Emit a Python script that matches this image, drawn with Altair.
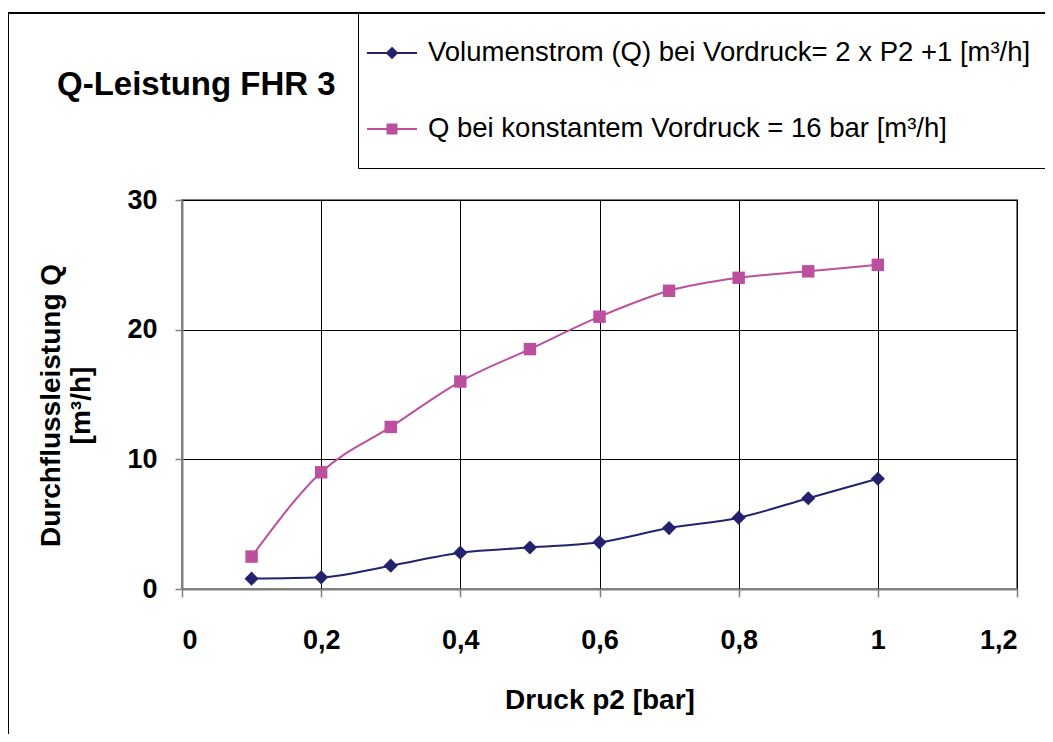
import altair as alt
import pandas as pd

# ---- data ----
p2 = [0.1, 0.2, 0.3, 0.4, 0.5, 0.6, 0.7, 0.8, 0.9, 1.0]
q_vordruck = [0.8, 0.9, 1.8, 2.8, 3.2, 3.6, 4.7, 5.5, 7.0, 8.5]
q_konstant = [2.5, 9.0, 12.5, 16.0, 18.5, 21.0, 23.0, 24.0, 24.5, 25.0]

series_names = [
    "Volumenstrom (Q) bei Vordruck= 2 x P2 +1  [m³/h]",
    "Q bei konstantem Vordruck = 16 bar [m³/h]",
]
series_colors = ["#24226F", "#BC4F9E"]
x_ticks = [0, 0.2, 0.4, 0.6, 0.8, 1.0, 1.2]
y_ticks = [0, 10, 20, 30]

rows = []
for x, a, b in zip(p2, q_vordruck, q_konstant):
    rows.append({"p2": x, "Q": a, "series": series_names[0]})
    rows.append({"p2": x, "Q": b, "series": series_names[1]})
df = pd.DataFrame(rows)

FONT = "Liberation Sans"

x_enc = alt.X(
    "p2:Q",
    scale=alt.Scale(domain=[0, 1.2], nice=False, zero=False),
    axis=alt.Axis(
        values=x_ticks,
        labelExpr="replace(format(datum.value, '~g'), '.', ',')",
        title="Druck p2 [bar]",
        titleFontSize=28,
        titleFontWeight="bold",
        titlePadding=33,
        labelFontSize=27,
        labelFontWeight="bold",
        labelPadding=30,
        tickSize=8,
        grid=True,
    ),
)
y_enc = alt.Y(
    "Q:Q",
    scale=alt.Scale(domain=[0, 30], nice=False),
    axis=alt.Axis(
        values=y_ticks,
        title=["Durchflussleistung Q", "[m³/h]"],
        titleFontSize=28,
        titleFontWeight="bold",
        titleLineHeight=30,
        titleAngle=-90,
        titleBaseline="top",
        titleAlign="center",
        titleX=-145,
        titleY=205,
        labelFontSize=27,
        labelFontWeight="bold",
        labelPadding=18,
        tickSize=7,
        grid=True,
    ),
)

base = alt.Chart(df)

frame = alt.Chart(alt.Data(values=[{}])).mark_rect(
    fillOpacity=0, stroke="black", strokeWidth=2
).encode(
    x=alt.value(-174), x2=alt.value(900), y=alt.value(-187), y2=alt.value(700)
)

line1 = base.transform_filter(alt.datum.series == series_names[0]).mark_line(
    interpolate="monotone", color=series_colors[0], strokeWidth=2
).encode(x=x_enc, y=y_enc)
line2 = base.transform_filter(alt.datum.series == series_names[1]).mark_line(
    interpolate="monotone", color=series_colors[1], strokeWidth=2
).encode(x=x_enc, y=y_enc)

pts1 = base.transform_filter(alt.datum.series == series_names[0]).mark_point(
    shape="diamond", filled=True, size=200, opacity=1, color=series_colors[0]
).encode(x=x_enc, y=y_enc)
pts2 = base.transform_filter(alt.datum.series == series_names[1]).mark_point(
    shape="square", filled=True, size=155, opacity=1, color=series_colors[1]
).encode(x=x_enc, y=y_enc)

# legend glyphs: a short line with the series marker (unit box = 58 px)
legend_shapes = [
    "M-1.07,0H0.655M-0.207,-0.17L-0.037,0L-0.207,0.17L-0.377,0ZM0,-1M0,0.83",
    "M-1.07,0H0.655M-0.362,-0.155H-0.052V0.155H-0.362ZM0,-1M0,0.83",
]
leg = alt.Legend(
    title=None,
    orient="none",
    legendX=176,
    legendY=-187,
    direction="vertical",
    padding=10,
    strokeColor="black",
    fillColor="white",
    labelFont=FONT,
    labelFontSize=27.5,
    labelColor="black",
    labelLimit=0,
    labelOffset=0,
    symbolSize=3364,
    symbolStrokeWidth=2,
    rowPadding=14,
)
sc = alt.Scale(domain=series_names, range=series_colors)
legend_layer = base.transform_filter("false").mark_point(filled=False, opacity=1).encode(
    x=x_enc,
    y=y_enc,
    fill=alt.Fill("series:N", scale=sc, legend=leg),
    stroke=alt.Stroke("series:N", scale=sc, legend=leg),
    shape=alt.Shape("series:N", scale=alt.Scale(domain=series_names, range=legend_shapes), legend=leg),
)

chart = alt.layer(frame, line1, line2, pts1, pts2, legend_layer).properties(
    width=835,
    height=389,
    padding={"left": 174, "top": 192, "right": 28, "bottom": 145},
    autosize=alt.AutoSizeParams(type="none"),
    title=alt.TitleParams(
        "Q-Leistung FHR 3",
        anchor="start",
        frame="group",
        orient="top",
        fontSize=33,
        fontWeight="bold",
        font=FONT,
        color="black",
        baseline="alphabetic",
        dx=-125,
        dy=116,
        offset=0,
    ),
).configure(
    font=FONT,
    background="white",
).configure_view(
    stroke="#808080", strokeWidth=2
).configure_axis(
    gridColor="black",
    gridWidth=1,
    gridOpacity=1,
    domainColor="#808080",
    domainWidth=2,
    tickColor="#808080",
    tickWidth=1.5,
    labelColor="black",
    titleColor="black",
    labelFont=FONT,
    titleFont=FONT,
)

chart.save("out.html", embed_options={"renderer": "svg", "actions": False})
